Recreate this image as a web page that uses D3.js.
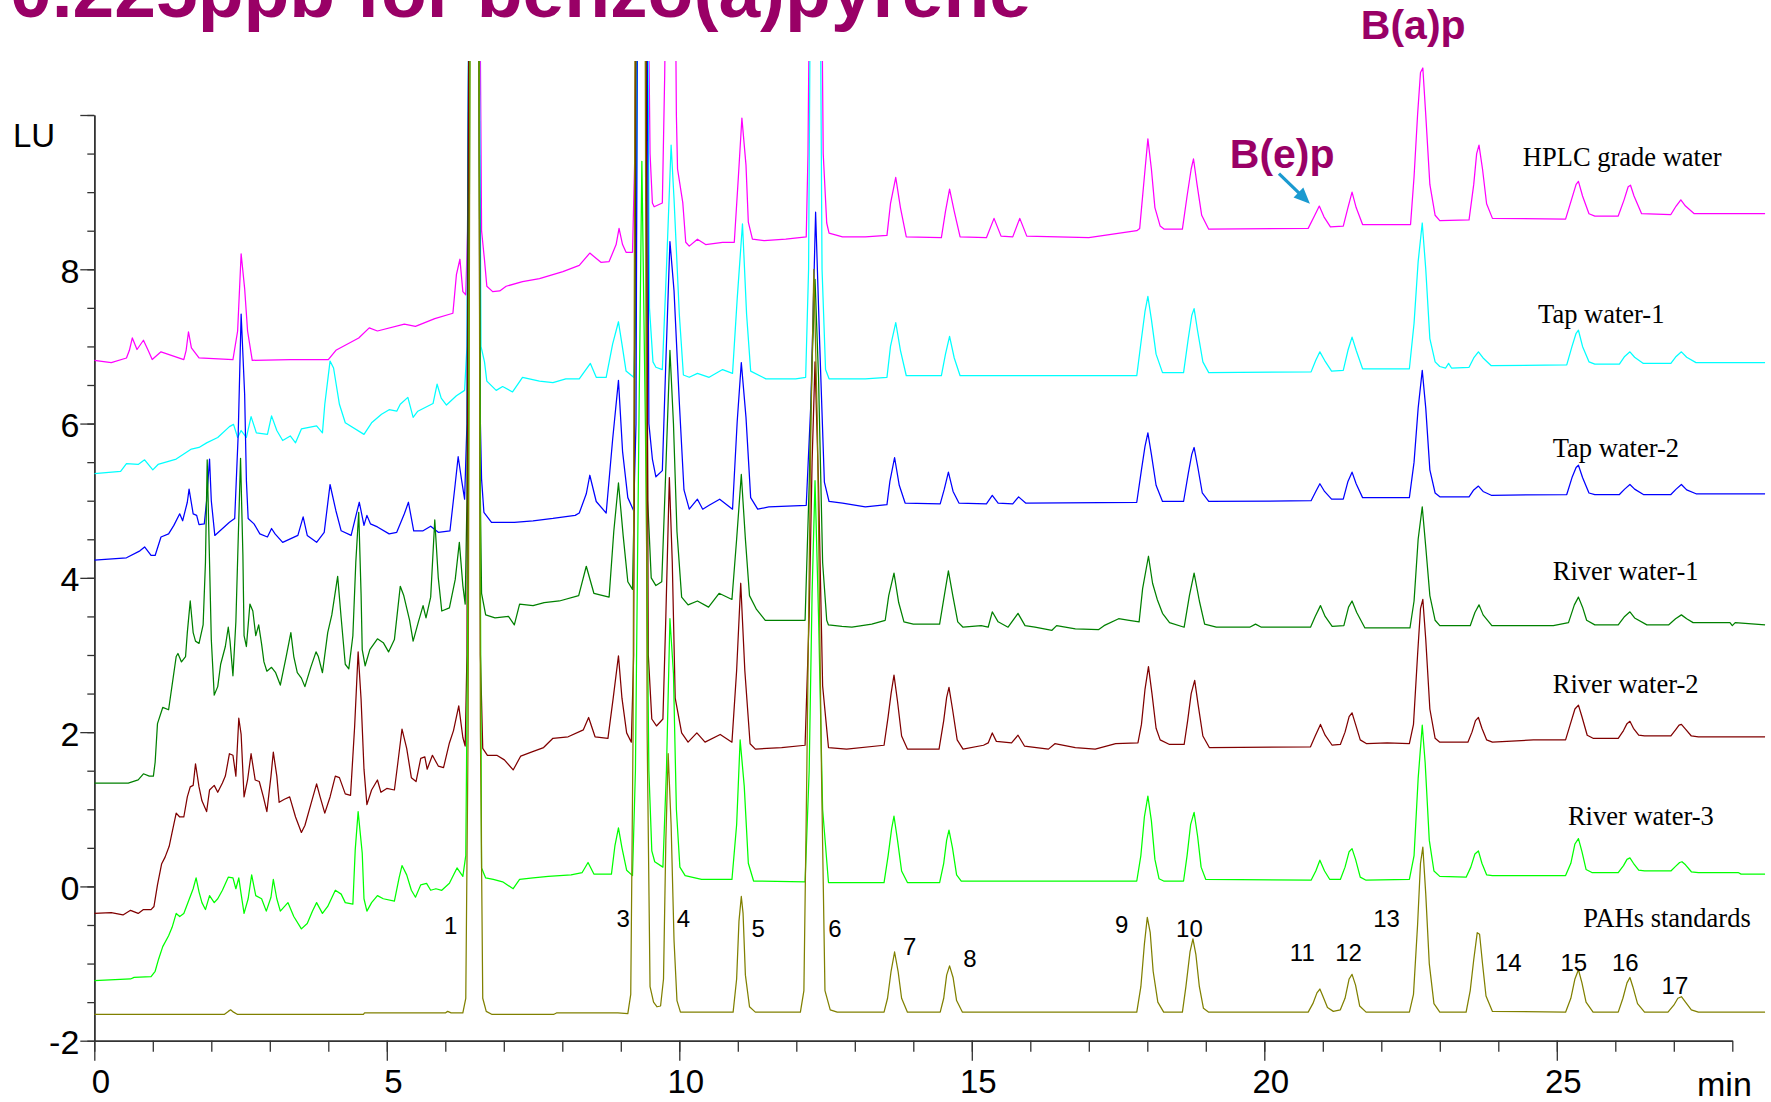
<!DOCTYPE html>
<html>
<head>
<meta charset="utf-8">
<script src="https://d3js.org/d3.v7.min.js"></script>
<style>
  html, body { margin: 0; padding: 0; background: #ffffff; }
  svg { display: block; }
</style>
</head>
<body>
<svg id="chart" width="1771" height="1102"></svg>
<script>
// ---------------------------------------------------------------
// Fluorescence chromatograms (LU vs. retention time in min)
// Each trace: [time (min), signal (LU)] vertices.
// Values above the plot top are drawn and clipped.
// ---------------------------------------------------------------

const seriesNames = [
  "HPLC grade water", "Tap water-1", "Tap water-2",
  "River water-1", "River water-2", "River water-3", "PAHs standards"
];

const hplcWater = [
  [0,6.82],[0.29,6.79],[0.55,6.85],[0.60,6.95],[0.65,7.11],[0.73,6.96],[0.84,7.08],[0.92,6.95],[0.99,6.83],[1.14,6.93],[1.53,6.83],[1.57,6.95],[1.61,7.19],[1.66,6.98],[1.79,6.85],[2.37,6.83],[2.45,7.20],[2.51,8.20],[2.57,7.75],[2.62,7.20],[2.70,6.82],[3.35,6.83],[4.0,6.83],[4.13,6.95],[4.52,7.11],[4.70,7.24],[4.84,7.20],[5.30,7.29],[5.49,7.26],[5.82,7.36],[6.13,7.43],[6.19,7.93],[6.25,8.13],[6.30,7.71],[6.35,7.67],
  [6.38,8.5],[6.42,13],[6.58,13],[6.62,8.5],[6.67,8.12],[6.71,7.78],[6.81,7.71],[6.93,7.72],[7.04,7.78],[7.32,7.84],[7.61,7.88],[8.01,7.97],[8.29,8.05],[8.47,8.21],[8.66,8.09],[8.80,8.10],[8.92,8.32],[8.97,8.53],[9.03,8.32],[9.09,8.22],[9.2,8.22],
  [9.24,9.5],[9.28,13],[9.45,13],[9.5,9.5],[9.54,8.86],[9.57,8.81],[9.71,8.86],
  [9.75,10.5],[9.79,13],[9.92,13],[9.95,10],[9.97,9.30],[10.06,8.86],[10.11,8.35],[10.17,8.30],[10.31,8.39],[10.45,8.32],[10.74,8.35],[10.94,8.35],
  [11.01,9.2],[11.07,9.96],[11.14,9.35],[11.18,8.61],[11.25,8.39],[11.45,8.37],[11.82,8.39],[12.17,8.42],
  [12.2,9.5],[12.24,13],[12.42,13],[12.46,9.5],[12.52,8.6],[12.56,8.47],[12.79,8.42],[13.18,8.42],[13.55,8.44],
  [13.61,8.85],[13.7,9.19],[13.78,8.8],[13.88,8.42],[14.48,8.41],
  [14.55,8.75],[14.62,9.04],[14.7,8.75],[14.8,8.42],[15.25,8.41],[15.38,8.66],[15.5,8.43],[15.7,8.42],[15.82,8.66],[15.94,8.43],[17.0,8.41],[17.82,8.50],
  [17.87,8.53],[17.95,9.2],[18.01,9.69],[18.07,9.3],[18.13,8.8],[18.22,8.56],[18.29,8.52],[18.6,8.52],
  [18.68,8.95],[18.75,9.3],[18.79,9.43],[18.85,9.1],[18.93,8.7],[19.05,8.52],[20.75,8.53],
  [20.85,8.68],[20.94,8.82],[21.02,8.68],[21.13,8.55],[21.35,8.56],
  [21.43,8.8],[21.5,9.0],[21.57,8.8],[21.68,8.58],[22.5,8.58],
  [22.56,9.2],[22.62,10.0],[22.67,10.55],[22.71,10.61],[22.76,10.0],[22.83,9.1],[22.92,8.7],[23.0,8.63],[23.5,8.64],
  [23.58,9.1],[23.63,9.5],[23.67,9.61],[23.73,9.3],[23.8,8.85],[23.9,8.66],[25.15,8.65],
  [25.25,8.9],[25.33,9.1],[25.37,9.14],[25.44,8.95],[25.55,8.72],[25.65,8.69],[26.05,8.69],
  [26.15,8.9],[26.22,9.07],[26.26,9.09],[26.32,8.95],[26.45,8.72],[26.95,8.71],
  [27.04,8.82],[27.12,8.9],[27.2,8.82],[27.35,8.72],[28.56,8.72]
];

const tapWater1 = [
  [0,5.35],[0.45,5.38],[0.55,5.48],[0.75,5.47],[0.86,5.53],[1.0,5.40],[1.09,5.47],[1.40,5.54],[1.66,5.67],[1.79,5.69],[1.92,5.75],[2.11,5.82],[2.31,5.96],[2.38,5.99],[2.45,5.82],[2.51,5.91],[2.60,5.82],[2.68,6.09],[2.77,5.88],[2.96,5.86],[3.03,6.10],[3.12,5.91],[3.22,5.78],[3.35,5.84],[3.44,5.75],[3.54,5.93],[3.80,5.97],[3.90,5.88],[3.94,6.25],[4.03,6.81],[4.09,6.72],[4.19,6.25],[4.29,6.01],[4.61,5.86],[4.74,6.01],[4.91,6.12],[5.04,6.18],[5.17,6.16],[5.23,6.25],[5.36,6.34],[5.45,6.08],[5.53,6.16],[5.79,6.26],[5.86,6.51],[5.93,6.33],[6.02,6.24],[6.19,6.36],[6.33,6.43],
  [6.37,7],[6.41,13],[6.57,13],[6.61,7],[6.67,6.80],[6.71,6.55],[6.87,6.43],[6.98,6.48],[7.15,6.41],[7.32,6.60],[7.61,6.55],[7.84,6.53],[8.06,6.58],[8.29,6.58],[8.48,6.78],[8.58,6.60],[8.75,6.60],[8.86,7.03],[8.96,7.32],[9.02,7.03],[9.09,6.68],[9.22,6.6],
  [9.26,7.5],[9.3,13],[9.45,13],[9.49,7.5],[9.55,6.8],[9.60,6.73],[9.71,6.70],
  [9.78,8.0],[9.86,9.61],[9.91,8.91],[10.0,7.42],[10.07,6.63],[10.17,6.60],[10.31,6.65],[10.51,6.60],[10.74,6.70],[10.91,6.65],
  [10.99,7.62],[11.08,8.59],[11.15,7.42],[11.22,6.68],[11.48,6.58],[11.99,6.58],[12.16,6.60],
  [12.21,8],[12.25,13],[12.40,13],[12.44,8],[12.5,6.7],[12.56,6.58],[13.18,6.58],[13.55,6.6],
  [13.61,7.0],[13.7,7.31],[13.78,6.95],[13.88,6.62],[14.48,6.62],
  [14.55,6.9],[14.62,7.13],[14.7,6.85],[14.8,6.62],[17.82,6.62],
  [17.9,7.1],[17.96,7.45],[18.01,7.65],[18.07,7.35],[18.15,6.9],[18.26,6.66],[18.62,6.66],
  [18.7,7.1],[18.76,7.4],[18.8,7.49],[18.86,7.2],[18.95,6.8],[19.05,6.66],[20.8,6.67],
  [20.88,6.82],[20.95,6.93],[21.03,6.82],[21.15,6.68],[21.35,6.69],
  [21.43,6.95],[21.5,7.12],[21.57,6.95],[21.68,6.71],[22.48,6.71],
  [22.56,7.3],[22.63,8.1],[22.7,8.60],[22.76,8.0],[22.83,7.1],[22.92,6.8],[23.0,6.74],[23.1,6.72],[23.15,6.78],[23.2,6.72],[23.5,6.73],
  [23.58,6.85],[23.66,6.93],[23.74,6.85],[23.88,6.75],[25.17,6.76],
  [25.26,7.0],[25.33,7.17],[25.37,7.21],[25.44,7.0],[25.55,6.8],[25.65,6.77],[26.07,6.77],
  [26.16,6.87],[26.25,6.93],[26.33,6.86],[26.48,6.78],[26.95,6.78],
  [27.04,6.87],[27.13,6.93],[27.22,6.86],[27.38,6.79],[28.56,6.79]
];

const tapWater2 = [
  [0,4.23],[0.55,4.26],[0.78,4.35],[0.86,4.40],[0.97,4.29],[1.04,4.29],[1.14,4.53],[1.27,4.57],[1.36,4.68],[1.46,4.83],[1.51,4.74],[1.59,4.98],[1.62,5.15],[1.69,4.83],[1.75,4.81],[1.79,4.69],[1.88,4.70],[1.92,5.0],[1.97,5.54],[2.0,5.0],[2.06,4.55],[2.31,4.72],[2.40,4.77],[2.46,5.86],[2.51,7.42],[2.57,6.38],[2.60,5.26],[2.63,4.77],[2.73,4.70],[2.83,4.57],[2.96,4.53],[3.03,4.64],[3.09,4.57],[3.22,4.46],[3.48,4.55],[3.57,4.79],[3.64,4.55],[3.80,4.46],[3.93,4.59],[4.03,5.21],[4.13,4.87],[4.22,4.61],[4.39,4.55],[4.48,4.83],[4.53,4.98],[4.61,4.68],[4.66,4.81],[4.72,4.70],[4.84,4.66],[5.04,4.57],[5.17,4.59],[5.30,4.83],[5.37,4.98],[5.46,4.61],[5.62,4.61],[5.75,4.67],[5.88,4.59],[6.08,4.61],[6.17,5.22],[6.22,5.57],[6.28,5.26],[6.33,5.02],
  [6.37,6],[6.41,13],[6.57,13],[6.6,6],[6.62,5.28],[6.66,4.85],[6.79,4.72],[7.18,4.72],[7.50,4.74],[7.84,4.77],[8.22,4.81],[8.29,4.84],[8.41,5.09],[8.47,5.33],[8.58,4.99],[8.75,4.84],
  [8.86,5.79],[8.96,6.56],[9.03,5.64],[9.12,5.04],[9.22,4.87],
  [9.26,6],[9.29,13],[9.44,13],[9.48,6],[9.54,5.54],[9.60,5.31],[9.71,5.39],
  [9.77,6.8],[9.84,8.36],[9.91,7.72],[10.0,6.28],[10.08,5.14],[10.17,4.89],[10.31,5.02],[10.40,4.89],[10.51,4.94],[10.69,5.02],[10.91,4.89],
  [10.99,6.03],[11.06,6.79],[11.14,6.08],[11.22,5.04],[11.34,4.89],[11.53,4.92],[12.17,4.94],
  [12.25,6.28],[12.33,8.74],[12.40,7.03],[12.48,5.24],[12.56,4.99],[12.79,4.97],[13.18,4.92],[13.55,4.95],
  [13.6,5.25],[13.68,5.56],[13.76,5.2],[13.86,4.97],[14.46,4.96],
  [14.53,5.15],[14.6,5.37],[14.68,5.12],[14.78,4.97],[15.25,4.96],[15.35,5.07],[15.45,4.97],[15.7,4.96],[15.8,5.05],[15.92,4.97],[17.82,4.98],
  [17.9,5.4],[17.96,5.7],[18.01,5.88],[18.07,5.6],[18.15,5.2],[18.26,4.99],[18.62,4.99],
  [18.7,5.35],[18.76,5.6],[18.8,5.69],[18.86,5.45],[18.94,5.1],[19.05,4.99],[20.8,5.0],
  [20.88,5.12],[20.95,5.22],[21.03,5.12],[21.15,5.02],[21.35,5.02],
  [21.43,5.25],[21.5,5.37],[21.57,5.22],[21.68,5.04],[22.48,5.04],
  [22.56,5.5],[22.63,6.2],[22.7,6.69],[22.76,6.2],[22.83,5.4],[22.92,5.1],[23.0,5.05],[23.5,5.05],
  [23.58,5.14],[23.66,5.19],[23.74,5.12],[23.88,5.07],[25.17,5.08],
  [25.26,5.3],[25.33,5.43],[25.37,5.46],[25.44,5.3],[25.55,5.1],[25.65,5.08],[26.07,5.08],
  [26.16,5.15],[26.25,5.21],[26.33,5.15],[26.48,5.08],[26.95,5.08],
  [27.04,5.15],[27.13,5.21],[27.22,5.14],[27.38,5.09],[28.56,5.09]
];

const riverWater1 = [
  [0,1.34],[0.58,1.34],[0.75,1.38],[0.84,1.46],[0.94,1.43],[1.01,1.43],[1.04,1.61],[1.08,2.11],[1.17,2.32],[1.27,2.29],[1.33,2.61],[1.40,2.98],[1.43,3.02],[1.49,2.91],[1.56,2.98],[1.59,3.29],[1.64,3.70],[1.69,3.29],[1.73,3.18],[1.79,3.15],[1.86,3.39],[1.90,4.2],[1.93,5.53],[1.97,4.2],[2.0,3.2],[2.05,2.48],[2.11,2.59],[2.16,2.88],[2.24,3.11],[2.29,3.36],[2.32,3.18],[2.37,2.73],[2.42,3.43],[2.46,4.5],[2.5,5.55],[2.54,4.3],[2.56,3.25],[2.60,3.11],[2.66,3.66],[2.71,3.57],[2.76,3.25],[2.81,3.39],[2.86,3.14],[2.90,2.91],[2.95,2.79],[3.03,2.84],[3.10,2.77],[3.18,2.61],[3.28,2.98],[3.36,3.29],[3.41,2.98],[3.47,2.77],[3.54,2.70],[3.60,2.59],[3.70,2.84],[3.79,3.04],[3.83,2.98],[3.90,2.77],[3.99,3.29],[4.06,3.52],[4.16,4.02],[4.22,3.48],[4.29,2.88],[4.35,2.82],[4.42,3.25],[4.47,4.2],[4.52,4.85],[4.56,3.8],[4.58,3.07],[4.63,2.86],[4.71,3.07],[4.84,3.21],[4.94,3.16],[5.03,3.04],[5.13,3.20],[5.23,3.89],[5.29,3.77],[5.39,3.45],[5.45,3.18],[5.54,3.43],[5.62,3.64],[5.67,3.48],[5.75,3.75],[5.82,4.75],[5.88,4.0],[5.94,3.57],[6.07,3.61],[6.17,3.98],[6.24,4.46],[6.30,3.9],[6.34,3.66],
  [6.37,5],[6.41,13],[6.57,13],[6.6,5],[6.62,3.80],[6.69,3.52],[6.85,3.48],[7.08,3.50],[7.18,3.39],[7.27,3.66],[7.50,3.64],[7.69,3.68],[7.95,3.70],[8.28,3.77],[8.41,4.15],[8.54,3.80],[8.8,3.75],
  [8.88,4.6],[8.96,5.23],[9.04,4.55],[9.12,3.95],[9.2,3.85],
  [9.23,5],[9.27,13],[9.42,13],[9.46,5],[9.52,4.0],[9.6,3.9],[9.7,3.95],
  [9.76,5.2],[9.84,6.95],[9.9,6.0],[9.96,4.6],[10.04,3.75],[10.15,3.65],[10.31,3.7],[10.5,3.62],[10.68,3.8],[10.9,3.72],
  [10.98,4.5],[11.06,5.34],[11.13,4.5],[11.2,3.77],[11.32,3.59],[11.47,3.45],[12.15,3.45],
  [12.22,5.2],[12.27,6.8],[12.32,7.87],[12.38,6.6],[12.45,4.2],[12.52,3.45],[12.55,3.39],[12.78,3.37],[12.95,3.36],[13.29,3.40],[13.52,3.45],
  [13.58,3.77],[13.67,4.06],[13.75,3.68],[13.84,3.43],[14.0,3.4],[14.45,3.4],
  [14.53,3.77],[14.6,4.09],[14.68,3.75],[14.76,3.43],[14.85,3.36],[15.16,3.38],[15.28,3.36],[15.35,3.56],[15.45,3.43],[15.62,3.36],[15.79,3.54],[15.91,3.38],[16.08,3.36],[16.37,3.32],[16.45,3.38],[16.77,3.34],[17.17,3.33],[17.26,3.38],[17.51,3.47],[17.69,3.45],[17.86,3.43],
  [17.92,3.86],[18.02,4.28],[18.09,3.93],[18.17,3.72],[18.26,3.54],[18.38,3.42],[18.63,3.36],
  [18.72,3.77],[18.8,4.06],[18.89,3.7],[18.98,3.40],[19.18,3.36],[19.75,3.36],[19.85,3.4],[19.95,3.36],[20.79,3.36],
  [20.87,3.5],[20.96,3.64],[21.04,3.5],[21.16,3.37],[21.36,3.38],
  [21.44,3.62],[21.5,3.70],[21.58,3.55],[21.72,3.35],[22.49,3.35],
  [22.56,3.7],[22.63,4.5],[22.7,4.92],[22.76,4.4],[22.83,3.77],[22.92,3.45],[23.0,3.38],[23.52,3.38],
  [23.6,3.55],[23.67,3.65],[23.74,3.52],[23.89,3.38],[24.94,3.38],[25.2,3.42],
  [25.3,3.65],[25.37,3.75],[25.44,3.62],[25.51,3.45],[25.65,3.39],[26.05,3.39],
  [26.16,3.5],[26.25,3.56],[26.33,3.48],[26.54,3.39],[26.91,3.39],
  [27.03,3.47],[27.13,3.52],[27.22,3.47],[27.33,3.42],[27.96,3.42],[28.0,3.38],[28.05,3.42],[28.56,3.39]
];

const riverWater2 = [
  [0,-0.35],[0.29,-0.34],[0.49,-0.37],[0.62,-0.31],[0.75,-0.35],[0.84,-0.30],[0.97,-0.30],[1.02,-0.26],[1.08,0.02],[1.15,0.29],[1.21,0.38],[1.28,0.52],[1.33,0.70],[1.40,0.95],[1.46,0.90],[1.53,0.90],[1.59,1.16],[1.64,1.29],[1.69,1.31],[1.73,1.59],[1.79,1.29],[1.84,1.11],[1.92,0.97],[1.97,1.25],[2.05,1.31],[2.11,1.22],[2.19,1.34],[2.24,1.43],[2.31,1.72],[2.37,1.70],[2.42,1.43],[2.47,2.18],[2.51,1.97],[2.56,1.16],[2.62,1.38],[2.68,1.72],[2.75,1.38],[2.82,1.36],[2.89,1.16],[2.95,0.97],[3.02,1.43],[3.06,1.74],[3.12,1.43],[3.16,1.09],[3.25,1.13],[3.34,1.16],[3.44,0.90],[3.54,0.70],[3.60,0.79],[3.70,1.06],[3.80,1.33],[3.86,1.16],[3.94,0.95],[4.03,1.16],[4.12,1.43],[4.19,1.41],[4.29,1.20],[4.38,1.18],[4.45,2.07],[4.51,3.04],[4.56,2.43],[4.61,1.52],[4.66,1.06],[4.74,1.25],[4.84,1.38],[4.90,1.22],[5.0,1.27],[5.13,1.25],[5.19,1.61],[5.26,2.04],[5.34,1.79],[5.42,1.41],[5.50,1.36],[5.58,1.66],[5.65,1.68],[5.69,1.52],[5.78,1.70],[5.88,1.56],[5.97,1.54],[6.07,1.86],[6.14,2.02],[6.23,2.34],[6.30,1.93],[6.34,1.82],
  [6.37,3],[6.41,13],[6.57,13],[6.6,3],[6.64,1.79],[6.72,1.70],[6.88,1.70],[7.01,1.64],[7.16,1.51],[7.29,1.69],[7.47,1.74],[7.68,1.8],[7.84,1.92],[8.10,1.94],[8.36,2.03],[8.45,2.19],[8.56,1.94],[8.78,1.92],[8.87,2.44],[8.96,2.99],[9.02,2.44],[9.10,1.99],[9.18,1.87],
  [9.22,3],[9.26,13],[9.42,13],[9.47,3],[9.53,2.17],[9.61,2.08],[9.72,2.17],
  [9.77,3.5],[9.83,5.3],[9.88,4.2],[9.93,2.44],[10.04,1.99],[10.15,1.87],[10.30,1.99],[10.44,1.87],[10.70,1.97],[10.9,1.87],
  [10.98,2.8],[11.05,3.93],[11.12,2.8],[11.21,1.85],[11.30,1.78],[11.75,1.8],[12.15,1.83],
  [12.22,3.5],[12.27,5.5],[12.32,6.8],[12.38,5.2],[12.45,2.6],[12.55,1.8],[12.86,1.78],[13.5,1.83],
  [13.57,2.2],[13.62,2.5],[13.67,2.74],[13.73,2.4],[13.8,1.95],[13.9,1.78],[14.44,1.78],
  [14.52,2.15],[14.57,2.45],[14.61,2.58],[14.67,2.3],[14.75,1.9],[14.85,1.78],
  [15.2,1.83],[15.28,1.86],[15.35,1.99],[15.42,1.88],[15.68,1.86],[15.79,1.96],[15.9,1.82],[16.31,1.78],[16.42,1.85],[16.77,1.8],[17.11,1.78],[17.46,1.85],[17.84,1.86],
  [17.9,2.1],[17.96,2.55],[18.02,2.85],[18.08,2.5],[18.15,2.05],[18.22,1.9],[18.38,1.84],[18.63,1.84],
  [18.69,2.15],[18.75,2.5],[18.81,2.67],[18.87,2.35],[18.95,1.95],[19.06,1.8],[20.79,1.81],
  [20.87,1.95],[20.96,2.10],[21.04,1.96],[21.16,1.83],[21.3,1.84],
  [21.38,2.0],[21.45,2.2],[21.5,2.25],[21.56,2.1],[21.64,1.9],[21.75,1.85],[22.1,1.86],[22.48,1.85],
  [22.55,2.1],[22.62,3.0],[22.67,3.6],[22.71,3.72],[22.76,3.2],[22.83,2.3],[22.92,1.92],[23.0,1.87],[23.48,1.87],
  [23.55,2.0],[23.61,2.15],[23.66,2.19],[23.72,2.05],[23.8,1.9],[23.9,1.87],[24.6,1.9],[25.15,1.9],
  [25.23,2.1],[25.31,2.3],[25.37,2.35],[25.43,2.2],[25.52,1.96],[25.62,1.92],[26.05,1.92],
  [26.14,2.02],[26.2,2.11],[26.25,2.14],[26.31,2.05],[26.4,1.96],[26.5,1.95],[26.95,1.95],
  [27.03,2.03],[27.09,2.09],[27.13,2.1],[27.2,2.04],[27.3,1.95],[27.42,1.94],[28.56,1.94]
];

const riverWater3 = [
  [0,-1.22],[0.62,-1.2],[0.68,-1.18],[0.97,-1.17],[1.04,-1.1],[1.10,-0.94],[1.17,-0.78],[1.27,-0.64],[1.33,-0.53],[1.40,-0.35],[1.46,-0.39],[1.53,-0.35],[1.59,-0.23],[1.69,-0.03],[1.74,0.11],[1.79,-0.07],[1.84,-0.21],[1.90,-0.30],[1.97,-0.12],[2.05,-0.21],[2.11,-0.16],[2.19,-0.05],[2.29,0.12],[2.37,0.11],[2.42,-0.03],[2.47,0.11],[2.51,-0.10],[2.56,-0.35],[2.63,-0.16],[2.69,0.15],[2.76,-0.12],[2.86,-0.16],[2.94,-0.32],[3.02,-0.14],[3.06,0.09],[3.12,-0.16],[3.18,-0.32],[3.31,-0.21],[3.41,-0.39],[3.54,-0.55],[3.64,-0.48],[3.73,-0.32],[3.80,-0.21],[3.90,-0.35],[3.99,-0.26],[4.12,-0.05],[4.22,-0.10],[4.29,-0.21],[4.42,-0.23],[4.46,0.47],[4.51,0.97],[4.58,0.43],[4.61,-0.16],[4.66,-0.32],[4.74,-0.21],[4.84,-0.12],[4.94,-0.16],[5.13,-0.19],[5.21,0.11],[5.26,0.27],[5.34,0.15],[5.42,-0.05],[5.49,-0.14],[5.58,0.02],[5.68,0.04],[5.75,-0.05],[5.84,-0.03],[5.94,-0.05],[6.07,0.04],[6.20,0.24],[6.30,0.13],
  [6.35,0.4],[6.39,4],[6.43,13],[6.57,13],[6.6,4],[6.62,0.24],[6.69,0.11],[6.82,0.09],[6.98,0.06],[7.16,-0.03],[7.27,0.09],[7.50,0.11],[7.76,0.13],[8.15,0.15],[8.34,0.18],[8.44,0.31],[8.54,0.16],[8.84,0.16],[8.90,0.53],[8.96,0.76],[9.02,0.50],[9.10,0.21],[9.2,0.14],
  [9.25,1.5],[9.31,6],[9.36,9.4],[9.42,6],[9.48,1.5],[9.53,0.46],[9.58,0.32],[9.72,0.25],
  [9.78,1.5],[9.84,3.47],[9.90,2.76],[9.95,1.0],[10.01,0.25],[10.10,0.14],[10.38,0.09],[10.9,0.09],
  [10.98,0.8],[11.04,1.90],[11.11,1.3],[11.18,0.3],[11.27,0.07],[12.15,0.06],
  [12.22,1.5],[12.27,3.8],[12.32,5.26],[12.38,3.5],[12.45,1.0],[12.55,0.05],[13.5,0.05],
  [13.57,0.4],[13.63,0.75],[13.67,0.91],[13.73,0.6],[13.8,0.2],[13.9,0.05],[14.45,0.05],
  [14.52,0.3],[14.57,0.6],[14.61,0.73],[14.67,0.5],[14.74,0.15],[14.82,0.07],[17.82,0.07],
  [17.89,0.4],[17.95,0.9],[18.01,1.17],[18.07,0.85],[18.13,0.35],[18.2,0.1],[18.28,0.07],[18.62,0.07],
  [18.68,0.4],[18.74,0.8],[18.8,0.96],[18.86,0.65],[18.92,0.25],[19.0,0.09],[20.8,0.08],
  [20.88,0.2],[20.95,0.34],[21.03,0.2],[21.12,0.09],[21.3,0.09],
  [21.38,0.25],[21.45,0.45],[21.5,0.49],[21.56,0.35],[21.64,0.12],[21.74,0.08],[22.48,0.09],
  [22.56,0.4],[22.63,1.4],[22.7,2.09],[22.75,1.6],[22.82,0.6],[22.9,0.2],[23.0,0.13],[23.45,0.12],
  [23.53,0.25],[23.6,0.42],[23.66,0.46],[23.72,0.3],[23.8,0.15],[23.9,0.14],[25.15,0.14],
  [25.24,0.3],[25.31,0.55],[25.37,0.62],[25.43,0.45],[25.5,0.22],[25.6,0.18],[26.05,0.18],
  [26.14,0.27],[26.2,0.35],[26.25,0.37],[26.31,0.3],[26.4,0.21],[26.5,0.2],[26.95,0.2],
  [27.03,0.26],[27.1,0.31],[27.14,0.32],[27.2,0.28],[27.3,0.19],[27.42,0.18],[28.1,0.18],[28.15,0.16],[28.56,0.16]
];

const pahStandards = [
  [0,-1.66],[2.22,-1.66],[2.29,-1.62],[2.33,-1.60],[2.38,-1.63],[2.45,-1.66],[4.6,-1.66],[4.62,-1.64],[6.0,-1.64],[6.04,-1.62],[6.1,-1.64],[6.3,-1.64],
  [6.35,-1.45],[6.39,2],[6.43,13],[6.57,13],[6.6,2],[6.64,-1.45],[6.7,-1.62],[6.8,-1.66],[7.85,-1.66],[7.9,-1.64],[8.95,-1.64],[9.12,-1.65],
  [9.17,-1.4],[9.21,2],[9.25,13],[9.41,13],[9.45,2],[9.5,-1.3],[9.56,-1.5],[9.62,-1.56],[9.68,-1.55],
  [9.73,-1.2],[9.77,0.6],[9.81,1.72],[9.86,0.8],[9.91,-0.7],[9.96,-1.48],[10.02,-1.63],[10.92,-1.63],
  [10.98,-1.2],[11.02,-0.45],[11.06,-0.13],[11.09,-0.35],[11.13,-1.15],[11.2,-1.56],[11.3,-1.63],[12.07,-1.63],
  [12.13,-1.35],[12.18,1.5],[12.25,6],[12.30,8.0],[12.36,6],[12.43,1.5],[12.49,-1.35],[12.58,-1.6],[12.7,-1.63],[13.5,-1.63],
  [13.56,-1.45],[13.62,-1.1],[13.68,-0.85],[13.74,-1.1],[13.8,-1.45],[13.9,-1.63],[14.46,-1.63],
  [14.52,-1.45],[14.57,-1.15],[14.62,-1.03],[14.68,-1.18],[14.74,-1.48],[14.84,-1.63],[17.82,-1.63],
  [17.89,-1.3],[17.95,-0.75],[18.0,-0.4],[18.05,-0.6],[18.1,-1.1],[18.18,-1.5],[18.28,-1.63],[18.6,-1.63],
  [18.66,-1.3],[18.73,-0.85],[18.78,-0.68],[18.83,-0.88],[18.89,-1.3],[18.96,-1.58],[19.05,-1.63],[20.75,-1.63],
  [20.83,-1.52],[20.9,-1.38],[20.95,-1.33],[21.0,-1.42],[21.08,-1.57],[21.18,-1.62],[21.3,-1.6],
  [21.38,-1.45],[21.45,-1.2],[21.5,-1.14],[21.56,-1.28],[21.63,-1.55],[21.74,-1.63],[22.48,-1.63],
  [22.55,-1.4],[22.62,-0.5],[22.67,0.3],[22.71,0.51],[22.76,-0.1],[22.82,-1.0],[22.9,-1.52],[23.0,-1.63],[23.45,-1.63],
  [23.52,-1.35],[23.58,-0.95],[23.64,-0.6],[23.68,-0.62],[23.73,-1.0],[23.79,-1.42],[23.9,-1.62],[25.15,-1.63],
  [25.24,-1.45],[25.31,-1.2],[25.37,-1.08],[25.43,-1.25],[25.5,-1.5],[25.62,-1.63],[26.05,-1.63],
  [26.13,-1.45],[26.2,-1.25],[26.25,-1.18],[26.3,-1.3],[26.38,-1.52],[26.5,-1.63],[26.9,-1.63],
  [27.0,-1.54],[27.07,-1.45],[27.13,-1.43],[27.2,-1.5],[27.3,-1.6],[27.42,-1.63],[28.56,-1.63]
];

const seriesValues = [hplcWater, tapWater1, tapWater2, riverWater1, riverWater2, riverWater3, pahStandards];

// Axis ticks
const xMajorTicks = [0, 5, 10, 15, 20, 25];
const xTickLabels = ["0", "5", "10", "15", "20", "25"];
const yMajorTicks = [-2, 0, 2, 4, 6, 8, 10];
const yTickLabels = ["-2", "0", "2", "4", "6", "8", ""];

// Peak numbers of the standard mix, anchored at (min, LU)
const peakNumbers = ["1","3","4","5","6","7","8","9","10","11","12","13","14","15","16","17"];
const peakNumberAt = [
  [6.09,-0.62],[9.04,-0.52],[10.07,-0.52],[11.35,-0.66],[12.66,-0.66],[13.94,-0.89],[14.97,-1.05],[17.56,-0.61],
  [18.72,-0.66],[20.65,-0.97],[21.44,-0.97],[22.09,-0.52],[24.17,-1.09],[25.29,-1.09],[26.17,-1.09],[27.02,-1.39]
];

// Trace captions, anchored at (min, LU)
const captionAt = [[24.42,9.34],[24.68,7.31],[24.93,5.57],[24.93,3.97],[24.93,2.51],[25.19,0.79],[25.45,-0.52]];

// ---------------------------------------------------------------
const W = 1771, H = 1102;
const colors = ["#ff00ff", "#00ffff", "#0000ff", "#008000", "#800000", "#00ff00", "#808000"];
const purple = "#990066";
const axisColor = "#333333";
const sans = "'Liberation Sans', Arial, Helvetica, sans-serif";
const serif = "'Liberation Serif', 'Times New Roman', Times, serif";

const svg = d3.select("#chart");
const x = d3.scaleLinear().domain([0, 28]).range([94.3, 1732.3]);
const y = d3.scaleLinear().domain([-2, 10]).range([1040.7, 115]);
const plotTop = 61;

svg.append("defs").append("clipPath").attr("id", "plotArea")
  .append("rect")
  .attr("x", x(0)).attr("y", plotTop)
  .attr("width", W - x(0)).attr("height", y(-2) - plotTop);

// Title (runs off the top edge)
svg.append("text")
  .attr("x", 10).attr("y", 17)
  .attr("font-family", sans).attr("font-weight", "bold").attr("font-size", 75)
  .attr("fill", purple)
  .text("0.225ppb for benzo(a)pyrene");

// Axes
const yMinor = d3.axisLeft(y).tickValues(d3.range(-2, 10.001, 0.5)).tickSize(7).tickSizeOuter(0).tickFormat("");
const yMajor = d3.axisLeft(y).tickValues(yMajorTicks).tickSize(14).tickSizeOuter(0)
  .tickPadding(1).tickFormat((d, i) => yTickLabels[i]);
const xMinor = d3.axisBottom(x).tickValues(d3.range(0, 28.001, 1)).tickSize(11).tickSizeOuter(0).tickFormat("");
const xMajor = d3.axisBottom(x).tickValues(xMajorTicks).tickSize(20).tickSizeOuter(0)
  .tickPadding(9).tickFormat((d, i) => xTickLabels[i]);

function styleAxis(g) {
  g.selectAll("path.domain").attr("stroke", axisColor).attr("stroke-width", 1.5);
  g.selectAll(".tick line").attr("stroke", axisColor).attr("stroke-width", 1.3);
  g.selectAll(".tick text").attr("fill", "#000").attr("font-family", sans);
}

svg.append("g").attr("transform", `translate(${x(0)},0)`).call(yMinor).call(styleAxis);
const gy = svg.append("g").attr("transform", `translate(${x(0)},0)`).call(yMajor).call(styleAxis);
gy.selectAll(".tick text").attr("font-size", 34).attr("dy", "0.38em");

svg.append("g").attr("transform", `translate(0,${y(-2)})`).call(xMinor).call(styleAxis);
const gx = svg.append("g").attr("transform", `translate(0,${y(-2)})`).call(xMajor).call(styleAxis);
gx.selectAll(".tick text").attr("font-size", 33).attr("dx", 6);

// Axis units
svg.append("text").attr("x", 13).attr("y", 147)
  .attr("font-family", sans).attr("font-size", 33).attr("fill", "#000").text("LU");
svg.append("text").attr("x", 1697).attr("y", 1096)
  .attr("font-family", sans).attr("font-size", 34).attr("fill", "#000").text("min");

// Traces
const line = d3.line().x(d => x(d[0])).y(d => y(d[1]));
svg.append("g").attr("clip-path", "url(#plotArea)")
  .selectAll("path")
  .data(seriesValues)
  .join("path")
  .attr("d", line)
  .attr("fill", "none")
  .attr("stroke", (d, i) => colors[i])
  .attr("stroke-width", 1.25)
  .attr("stroke-linejoin", "round");

// Trace captions
svg.append("g").selectAll("text")
  .data(seriesNames)
  .join("text")
  .attr("x", (d, i) => x(captionAt[i][0]))
  .attr("y", (d, i) => y(captionAt[i][1]))
  .attr("font-family", serif).attr("font-size", 26.5).attr("fill", "#000")
  .text(d => d);

// Peak numbers
svg.append("g").selectAll("text")
  .data(peakNumbers)
  .join("text")
  .attr("x", (d, i) => x(peakNumberAt[i][0]))
  .attr("y", (d, i) => y(peakNumberAt[i][1]))
  .attr("text-anchor", "middle")
  .attr("font-family", sans).attr("font-size", 24).attr("fill", "#000")
  .text(d => d);

// Compound callouts
svg.append("text").attr("x", x(21.65)).attr("y", y(10.98))
  .attr("font-family", sans).attr("font-weight", "bold").attr("font-size", 41)
  .attr("fill", purple).text("B(a)p");
svg.append("text").attr("x", x(19.41)).attr("y", y(9.31))
  .attr("font-family", sans).attr("font-weight", "bold").attr("font-size", 41)
  .attr("fill", purple).text("B(e)p");

// Arrow pointing at the B(e)p peak
const arrowFrom = [20.25, 9.24], arrowTo = [20.78, 8.85];
const ax0 = x(arrowFrom[0]), ay0 = y(arrowFrom[1]);
const ax1 = x(arrowTo[0]), ay1 = y(arrowTo[1]);
const len = Math.hypot(ax1 - ax0, ay1 - ay0);
const ux = (ax1 - ax0) / len, uy = (ay1 - ay0) / len;
const headLen = 16, headHalf = 7;
const arrowColor = "#1a9ad0";
svg.append("line")
  .attr("x1", ax0).attr("y1", ay0)
  .attr("x2", ax1 - ux * (headLen - 2)).attr("y2", ay1 - uy * (headLen - 2))
  .attr("stroke", arrowColor).attr("stroke-width", 3.2);
svg.append("polygon")
  .attr("points", [
    [ax1, ay1],
    [ax1 - ux * headLen - uy * headHalf, ay1 - uy * headLen + ux * headHalf],
    [ax1 - ux * headLen + uy * headHalf, ay1 - uy * headLen - ux * headHalf]
  ].map(p => p.join(",")).join(" "))
  .attr("fill", arrowColor);
</script>
</body>
</html>
